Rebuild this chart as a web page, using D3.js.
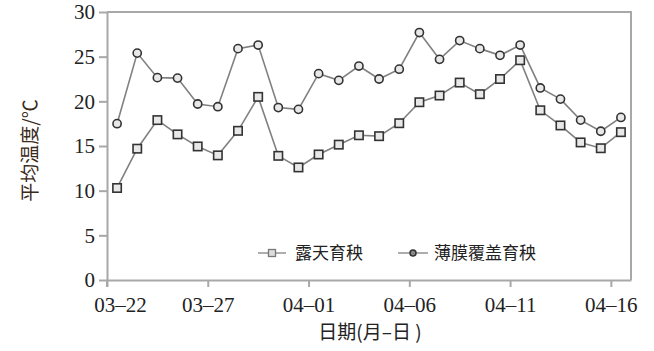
<!DOCTYPE html>
<html>
<head>
<meta charset="utf-8">
<script src="https://cdn.jsdelivr.net/npm/d3@7"></script>
<style>
	body { margin: 0; background: #fff; }
	svg text { fill: #222; }
</style>
</head>
<body>
<svg id="svg_temp" width="654" height="351"></svg>
<script>
// dates (month-day), one point per day
var dates = ["03-22", "03-23", "03-24", "03-25", "03-26", "03-27", "03-28", "03-29", "03-30", "03-31",
	"04-01", "04-02", "04-03", "04-04", "04-05", "04-06", "04-07", "04-08", "04-09", "04-10",
	"04-11", "04-12", "04-13", "04-14", "04-15", "04-16"];
// 露天育秧
var openField = [10.3, 14.7, 17.9, 16.3, 14.95, 13.95, 16.7, 20.5, 13.9, 12.6,
	14.05, 15.15, 16.2, 16.1, 17.55, 19.9, 20.65, 22.1, 20.8, 22.5,
	24.6, 19.0, 17.3, 15.4, 14.75, 16.55];
// 薄膜覆盖育秧
var filmCover = [17.5, 25.4, 22.65, 22.6, 19.7, 19.4, 25.9, 26.3, 19.3, 19.1,
	23.1, 22.35, 23.95, 22.5, 23.6, 27.7, 24.7, 26.8, 25.9, 25.15,
	26.3, 21.5, 20.25, 17.9, 16.65, 18.2];
var xTicks = ["03-22", "03-27", "04-01", "04-06", "04-11", "04-16"];
var yTicks = [0, 5, 10, 15, 20, 25, 30];

var svg = d3.select("#svg_temp"),
	margin = { top: 12, left: 107, right: 23, bottom: 71 },
	width = +svg.attr("width"),
	height = +svg.attr("height");

var parse = function(s) { return new Date(2020, +s.slice(0, 2) - 1, +s.slice(3)); };
var noon = function(s) { var d = parse(s); d.setHours(12); return d; };

var x = d3.scaleTime()
	.domain([parse("03-22"), d3.timeDay.offset(parse("04-16"), 1)])
	.range([margin.left, width - margin.right]);
var y = d3.scaleLinear()
	.domain([0, 30])
	.range([height - margin.bottom, margin.top]);

var axisColor = "#a8a8a8",
	numFont = "'Liberation Serif', 'Times New Roman', serif",
	cjkFont = "'Noto Sans CJK SC', 'Liberation Serif', serif";

// frame (top + right)
svg.append("path")
	.attr("d", "M" + margin.left + "," + y(30) + "H" + x.range()[1] + "V" + y(0))
	.attr("fill", "none").attr("stroke", axisColor).attr("stroke-width", 2);

var gx = svg.append("g")
	.attr("transform", "translate(0," + y(0) + ")")
	.call(d3.axisBottom(x)
		.tickValues(xTicks.map(parse))
		.tickSize(7).tickSizeOuter(0)
		.tickFormat(function(d) { return d3.timeFormat("%m–%d")(d); }));
gx.select(".domain").attr("stroke", axisColor).attr("stroke-width", 2);
gx.selectAll(".tick line").attr("stroke", axisColor).attr("stroke-width", 2);
gx.selectAll(".tick text")
	.attr("font-family", numFont).attr("font-size", 21)
	.attr("dy", "1.05em")
	.attr("dx", function(d, i) { return i == 0 ? 13 : 0; });

var gy = svg.append("g")
	.attr("transform", "translate(" + margin.left + ",0)")
	.call(d3.axisLeft(y).tickValues(yTicks).tickSize(8).tickSizeOuter(0));
gy.select(".domain").attr("stroke", axisColor).attr("stroke-width", 2);
gy.selectAll(".tick line").attr("stroke", axisColor).attr("stroke-width", 2);
gy.selectAll(".tick text")
	.attr("font-family", numFont).attr("font-size", 21)
	.attr("x", -12);
// extend axes past the origin like the original
svg.append("line")
	.attr("x1", margin.left).attr("x2", margin.left)
	.attr("y1", y(0)).attr("y2", y(0) + 7)
	.attr("stroke", axisColor).attr("stroke-width", 2);

var line = d3.line()
	.x(function(d) { return x(noon(d.date)); })
	.y(function(d) { return y(d.value); });

var series = [
	{ name: "露天育秧", values: openField, shape: "square" },
	{ name: "薄膜覆盖育秧", values: filmCover, shape: "circle" }
];

series.forEach(function(s) {
	var data = dates.map(function(d, i) { return { date: d, value: s.values[i] }; });
	var g = svg.append("g");
	g.append("path")
		.attr("d", line(data))
		.attr("fill", "none")
		.attr("stroke", "#808080")
		.attr("stroke-width", 1.6);
	if (s.shape == "square") {
		g.selectAll("rect").data(data).enter().append("rect")
			.attr("x", function(d) { return x(noon(d.date)) - 4.2; })
			.attr("y", function(d) { return y(d.value) - 4.2; })
			.attr("width", 8.4).attr("height", 8.4)
			.attr("fill", "#e8e8e8").attr("stroke", "#333").attr("stroke-width", 1.6);
	} else {
		g.selectAll("circle").data(data).enter().append("circle")
			.attr("cx", function(d) { return x(noon(d.date)); })
			.attr("cy", function(d) { return y(d.value); })
			.attr("r", 4.1)
			.attr("fill", "#e8e8e8").attr("stroke", "#333").attr("stroke-width", 1.6);
	}
});

// legend
var legend = svg.append("g").attr("transform", "translate(0,253)");
var l1 = legend.append("g").attr("transform", "translate(258,0)");
l1.append("line").attr("x1", 0).attr("x2", 28).attr("stroke", "#999").attr("stroke-width", 1.6);
l1.append("rect").attr("x", 10.5).attr("y", -3.5).attr("width", 7).attr("height", 7)
	.attr("fill", "#ddd").attr("stroke", "#777").attr("stroke-width", 1.3);
l1.append("text").attr("x", 37).attr("dy", "0.36em")
	.attr("font-family", cjkFont).attr("font-size", 17).text(series[0].name);

var l2 = legend.append("g").attr("transform", "translate(398,0)");
l2.append("line").attr("x1", 0).attr("x2", 30).attr("stroke", "#999").attr("stroke-width", 1.6);
l2.append("circle").attr("cx", 15).attr("r", 3)
	.attr("fill", "#888").attr("stroke", "#333").attr("stroke-width", 1.5);
l2.append("text").attr("x", 36).attr("dy", "0.36em")
	.attr("font-family", cjkFont).attr("font-size", 17).text(series[1].name);

// axis titles
svg.append("text")
	.attr("transform", "translate(30," + y(14.5) + ") rotate(-90)")
	.attr("text-anchor", "middle").attr("dy", "0.35em")
	.attr("font-family", cjkFont).attr("font-size", 19)
	.style("fill", "#3a2a1a")
	.text("平均温度/℃");
svg.append("text")
	.attr("x", 370).attr("y", 332)
	.attr("text-anchor", "middle").attr("dy", "0.35em")
	.attr("font-family", cjkFont).attr("font-size", 19)
	.text("日期(月–日 )");
</script>
</body>
</html>
